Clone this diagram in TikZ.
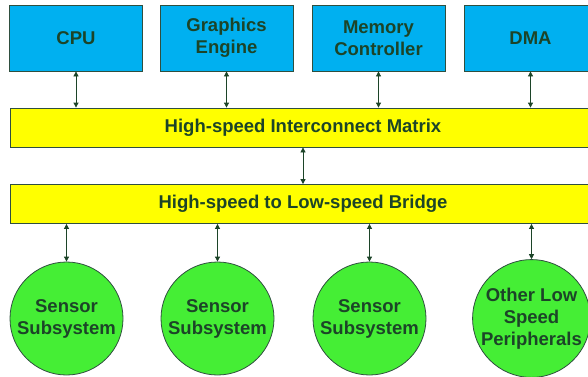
\documentclass[tikz,border=0pt]{standalone}
\usepackage{fontspec}
\setmainfont{Liberation Sans}
\usetikzlibrary{arrows.meta}
\definecolor{boxblue}{HTML}{00B0F0}
\definecolor{baryellow}{HTML}{FFFF00}
\definecolor{circgreen}{HTML}{45EE35}
\definecolor{txtgreen}{HTML}{1C4428}
\definecolor{edgecol}{HTML}{2F4F3F}
\tikzset{
  lbl/.style={font=\fontsize{18.5}{22}\selectfont\bfseries, text=txtgreen},
  unit/.style={lbl, draw=edgecol, line width=0.8pt, fill=boxblue, minimum width=133pt, minimum height=66pt, inner sep=0pt, align=center},
  bar/.style={draw=edgecol, line width=0.8pt, fill=baryellow, minimum width=600pt, minimum height=39pt, inner sep=0pt},
  periph/.style={lbl, circle, draw=edgecol, line width=0.8pt, fill=circgreen, minimum size=113pt, inner sep=0pt, align=center},
  link/.style={draw=txtgreen, line width=0.8pt, {Triangle[length=5pt,width=5pt]}-{Triangle[length=5pt,width=5pt]}}
}
\begin{document}
\begin{tikzpicture}[x=1pt,y=-1pt]
\useasboundingbox (0,0) rectangle (588,376);
\clip (0,0) rectangle (588,376);
\node[unit] (cpu) at (76,38) {CPU};
\node[unit] (gfx) at (226.5,38) {Graphics\\Engine};
\node[unit] (mem) at (378.5,38) {Memory\\Controller};
\node[unit] (dma) at (530.5,38) {DMA};
\node[bar, anchor=west] (ic) at (10,127.5) {};
\node[lbl] (ict) at (303,127.5) {High-speed Interconnect Matrix};
\node[bar, anchor=west] (br) at (10,204) {};
\node[lbl] (brt) at (303,204) {High-speed to Low-speed Bridge};
\node[periph] (s1) at (66.5,318.5) {Sensor\\Subsystem};
\node[periph] (s2) at (217.5,318.5) {Sensor\\Subsystem};
\node[periph] (s3) at (369.5,318.5) {Sensor\\Subsystem};
\node[periph] (op) at (531.5,318.5) {Other Low\\Speed\\Peripherals};
\draw[link] (cpu.south) -- (cpu.south |- ic.north);
\draw[link] (gfx.south) -- (gfx.south |- ic.north);
\draw[link] (mem.south) -- (mem.south |- ic.north);
\draw[link] (dma.south) -- (dma.south |- ic.north);
\draw[link] (ict |- ic.south) -- (ict |- br.north);
\draw[link] (s1.north |- br.south) -- (s1.north);
\draw[link] (s2.north |- br.south) -- (s2.north);
\draw[link] (s3.north |- br.south) -- (s3.north);
\draw[link] (op.north |- br.south) -- (op.north);
\end{tikzpicture}
\end{document}
